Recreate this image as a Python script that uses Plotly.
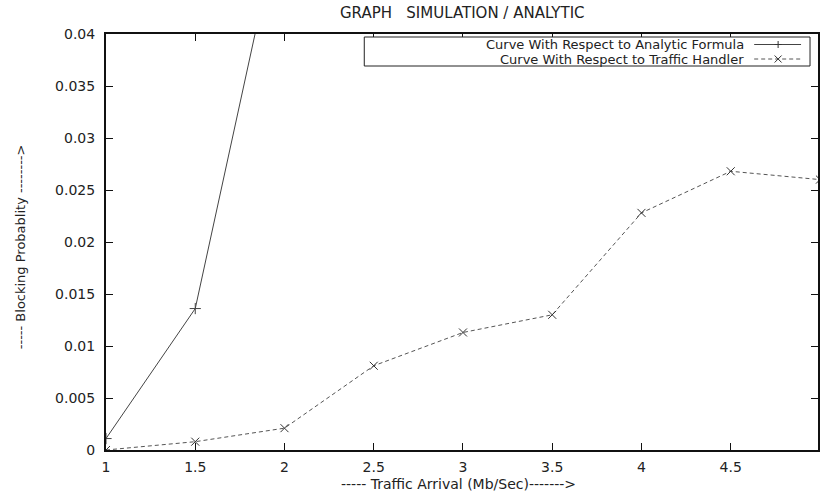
import plotly.graph_objects as go

# Blocking probability vs. traffic arrival rate
analytic_x = [1, 1.5, 2]
analytic_y = [0.0011, 0.0136, 0.053]

handler_x = [1, 1.5, 2, 2.5, 3, 3.5, 4, 4.5, 5]
handler_y = [0.0, 0.0008, 0.0021, 0.0081, 0.0113, 0.0130, 0.0228, 0.0268, 0.0260]

x_ticks = [1, 1.5, 2, 2.5, 3, 3.5, 4, 4.5]
x_tick_text = ["1", "1.5", "2", "2.5", "3", "3.5", "4", "4.5"]
y_ticks = [0, 0.005, 0.01, 0.015, 0.02, 0.025, 0.03, 0.035, 0.04]
y_tick_text = ["0", "0.005", "0.01", "0.015", "0.02", "0.025", "0.03", "0.035", "0.04"]

series_names = ["Curve With Respect to Analytic Formula",
                "Curve With Respect to Traffic Handler"]

W, H = 820, 497
ML, MR, MT, MB = 106, 0, 34, 47
PW, PH = W - ML - MR, H - MT - MB
FONT = "DejaVu Sans"
INK = "#222222"
LINE = "#444444"
DASHED = "#555555"


def px(x):
    return (x - ML) / PW


def py(y):
    return (H - MB - y) / PH


fig = go.Figure()
fig.add_trace(go.Scatter(
    x=analytic_x, y=analytic_y, mode="lines+markers", name=series_names[0],
    line=dict(color=LINE, width=1),
    marker=dict(symbol="cross-thin", size=8, line=dict(color=LINE, width=1)),
))
fig.add_trace(go.Scatter(
    x=handler_x, y=handler_y, mode="lines+markers", name=series_names[1],
    line=dict(color=DASHED, width=1, dash="4px,3px"),
    marker=dict(symbol="x-thin", size=8, line=dict(color="#333333", width=1)),
))

shapes = []
annotations = []

# key box in the upper right: text right-aligned, line sample to its right
shapes.append(dict(type="rect", xref="paper", yref="paper",
                   x0=px(365), x1=px(812), y0=py(66), y1=py(37),
                   line=dict(color=INK, width=1), fillcolor="white", layer="above"))
rows = [44.5, 59]
for i, (name, yrow) in enumerate(zip(series_names, rows)):
    annotations.append(dict(xref="paper", yref="paper", x=px(748), y=py(yrow),
                            text=name, showarrow=False, xanchor="right", yanchor="middle",
                            font=dict(family=FONT, size=13, color=INK)))
    shapes.append(dict(type="line", xref="paper", yref="paper",
                       x0=px(756), x1=px(803), y0=py(yrow), y1=py(yrow),
                       line=dict(color=LINE if i == 0 else DASHED, width=1,
                                 dash="solid" if i == 0 else "4px,3px"),
                       layer="above"))
    cx, cy, r = 780, yrow, 3.5
    if i == 0:
        segs = [(cx - r, cy, cx + r, cy), (cx, cy - r, cx, cy + r)]
    else:
        segs = [(cx - r, cy - r, cx + r, cy + r), (cx - r, cy + r, cx + r, cy - r)]
    for x0, y0, x1, y1 in segs:
        shapes.append(dict(type="line", xref="paper", yref="paper",
                           x0=px(x0), x1=px(x1), y0=py(y0), y1=py(y1),
                           line=dict(color="#333333", width=1), layer="above"))

annotations.append(dict(xref="paper", yref="paper", x=px(463), y=py(13),
                        text="GRAPH\u00a0\u00a0\u00a0SIMULATION / ANALYTIC", showarrow=False,
                        xanchor="center", yanchor="middle",
                        font=dict(family=FONT, size=15, color=INK)))
annotations.append(dict(xref="paper", yref="paper", x=px(459), y=py(484),
                        text="----- Traffic Arrival (Mb/Sec)------->", showarrow=False,
                        xanchor="center", yanchor="middle",
                        font=dict(family=FONT, size=14, color=INK)))
annotations.append(dict(xref="paper", yref="paper", x=px(20), y=py(247),
                        text="----- Blocking Probablity -------->", showarrow=False,
                        textangle=-90, xanchor="center", yanchor="middle",
                        font=dict(family=FONT, size=13, color=INK)))

axis_common = dict(showgrid=False, zeroline=False, showline=True, linecolor="#111111",
                   linewidth=2, mirror="ticks", ticks="inside", ticklen=7,
                   tickcolor="#111111", tickwidth=1,
                   tickfont=dict(family=FONT, size=14, color=INK))

fig.update_layout(
    width=W, height=H,
    margin=dict(l=ML, r=MR, t=MT, b=MB),
    paper_bgcolor="white", plot_bgcolor="white",
    showlegend=False,
    shapes=shapes, annotations=annotations,
    xaxis=dict(range=[1, 4.989], tickvals=x_ticks, ticktext=x_tick_text,
               ticklabelstandoff=3, **axis_common),
    yaxis=dict(range=[0, 0.04], tickvals=y_ticks, ticktext=y_tick_text,
               ticklabelstandoff=6, **axis_common),
)

fig.write_html("out.html")
